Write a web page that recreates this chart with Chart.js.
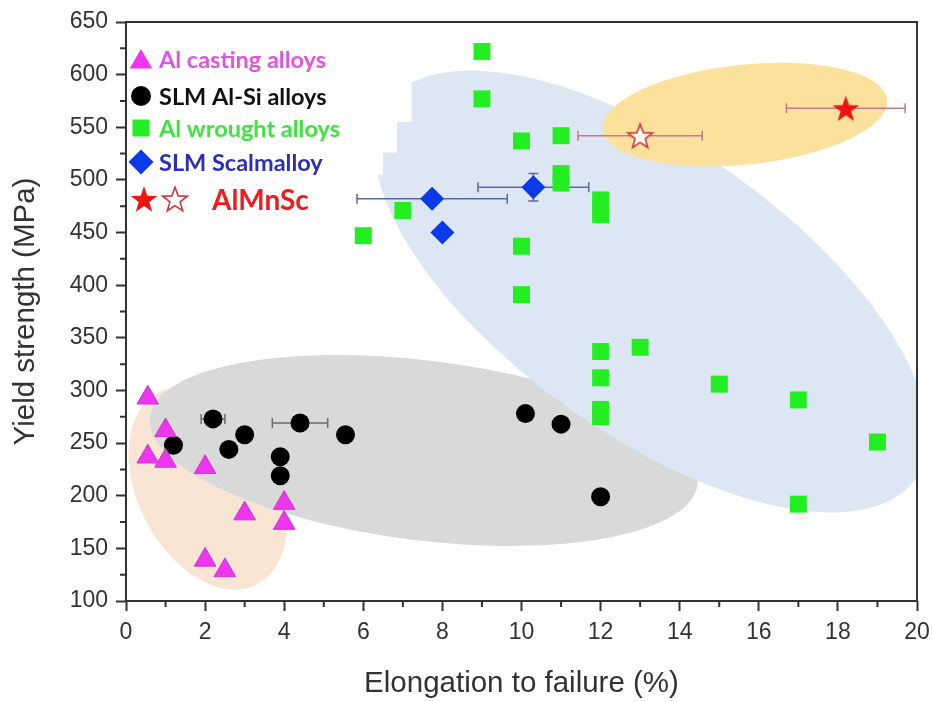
<!DOCTYPE html>
<html>
<head>
<meta charset="utf-8">
<script src="https://cdn.jsdelivr.net/npm/chart.js@4.4.1/dist/chart.umd.min.js"></script>
<style>
  html, body { margin: 0; padding: 0; background: #fff; }
</style>
</head>
<body>
<canvas id="chart" width="932" height="702"></canvas>
<script>
// Al casting alloys (triangles)
const castingX = [0.55, 1.0, 0.55, 1.0, 2.0, 3.0, 4.0, 4.0, 2.0, 2.5];
const castingY = [293, 262, 237, 233, 227, 183, 193, 174, 139, 129];

// SLM Al-Si alloys (circles)
const alsiX = [2.2, 1.2, 3.0, 2.6, 4.4, 3.9, 3.9, 5.55, 10.1, 11.0, 12.0];
const alsiY = [273, 248, 258, 244, 269, 237, 219, 258, 278, 268, 199];
const alsiXErr = [0.3, 0, 0, 0, 0.7, 0, 0, 0, 0, 0, 0];
const alsiYErr = [0, 0, 0, 0, 6, 0, 0, 0, 0, 0, 0];

// Al wrought alloys (squares)
const wroughtX = [9, 9, 10, 11, 11, 11, 12, 12, 7, 6, 10, 10, 12, 12, 12, 12, 13, 15, 17, 19, 17];
const wroughtY = [622, 577, 537, 542, 506, 497, 481, 467, 471, 447, 437, 391, 337, 312, 282, 275, 341, 306, 291, 251, 192];

// SLM Scalmalloy (diamonds)
const scalX = [7.74, 8.0, 10.3];
const scalY = [482, 450, 493];
const scalXErr = [1.9, 0, 1.4];
const scalYErr = [0, 0, 13];

// AlMnSc (stars)
const mnscFullX = [18.2];
const mnscFullY = [568];
const mnscFullXErr = [1.5];
const mnscOpenX = [13.0];
const mnscOpenY = [542];
const mnscOpenXErr = [1.57];

// axis ticks
const xTicks = [0, 2, 4, 6, 8, 10, 12, 14, 16, 18, 20];
const yTicks = [100, 150, 200, 250, 300, 350, 400, 450, 500, 550, 600, 650];

// shaded groups: centre in data units, half axes in px, rotation in degrees
const regions = [
  { cx: 2.07, cy: 207, rx: 108, ry: 70, rot: 63, color: '#f9e5d4' },
  { cx: 7.53, cy: 243, rx: 276, ry: 90, rot: 7, color: '#d9d9d9' },
  { cx: 13.28, cy: 394, rx: 324, ry: 143, rot: 35.4, color: '#dde7f3' },
  { cx: 15.65, cy: 562, rx: 143, ry: 50, rot: -6, color: '#fce19c' }
];
// white boxes of the pasted legend, cutting into the blue region
const maskSteps = [{ x: 7.22, y: 555 }, { x: 6.85, y: 526 }, { x: 6.5, y: 505 }];

function pts(xs, ys) {
  return xs.map((v, i) => ({ x: v, y: ys[i] }));
}

function makeStar(outer, inner, fill, stroke, lw) {
  const size = Math.ceil(outer * 2 + lw * 2 + 2);
  const c = document.createElement('canvas');
  c.width = size;
  c.height = size;
  const g = c.getContext('2d');
  const cx = size / 2, cy = size / 2 + outer * 0.095;
  g.beginPath();
  for (let i = 0; i < 10; i++) {
    const r = i % 2 === 0 ? outer : inner;
    const a = -Math.PI / 2 + i * Math.PI / 5;
    const px = cx + r * Math.cos(a), py = cy + r * Math.sin(a);
    if (i === 0) g.moveTo(px, py); else g.lineTo(px, py);
  }
  g.closePath();
  g.fillStyle = fill;
  g.fill();
  if (lw > 0) {
    g.strokeStyle = stroke;
    g.lineWidth = lw;
    g.stroke();
  }
  return c;
}

const starFull = makeStar(14, 5.6, '#ee1414', '#ee1414', 0);
const starOpen = makeStar(13, 5.4, 'rgba(255,255,255,0.85)', '#c93a3a', 1.6);

const errorSets = [
  { xs: alsiX, ys: alsiY, xe: alsiXErr, ye: alsiYErr, color: '#6b6b6b' },
  { xs: scalX, ys: scalY, xe: scalXErr, ye: scalYErr, color: '#5a68a6' },
  { xs: mnscFullX, ys: mnscFullY, xe: mnscFullXErr, ye: [0], color: '#c47a8a' },
  { xs: mnscOpenX, ys: mnscOpenY, xe: mnscOpenXErr, ye: [0], color: '#c47a8a' }
];

const backdrop = {
  id: 'backdrop',
  beforeDatasetsDraw(chart) {
    const { ctx, chartArea: a, scales: { x, y } } = chart;
    ctx.save();
    ctx.beginPath();
    ctx.rect(a.left, a.top, a.right - a.left, a.bottom - a.top);
    ctx.clip();
    regions.forEach(r => {
      ctx.fillStyle = r.color;
      ctx.beginPath();
      ctx.ellipse(x.getPixelForValue(r.cx), y.getPixelForValue(r.cy), r.rx, r.ry, r.rot * Math.PI / 180, 0, Math.PI * 2);
      ctx.fill();
    });
    ctx.fillStyle = '#fff';
    let top = y.max;
    maskSteps.forEach(s => {
      const y0 = y.getPixelForValue(top), y1 = y.getPixelForValue(s.y);
      ctx.fillRect(a.left, y0, x.getPixelForValue(s.x) - a.left, y1 - y0);
      top = s.y;
    });
    ctx.restore();

    // error bars
    ctx.save();
    ctx.lineWidth = 1.5;
    const cap = 5;
    errorSets.forEach(set => {
      ctx.strokeStyle = set.color;
      ctx.beginPath();
      set.xs.forEach((v, i) => {
        const px = x.getPixelForValue(v), py = y.getPixelForValue(set.ys[i]);
        if (set.xe[i]) {
          const l = x.getPixelForValue(v - set.xe[i]), r = x.getPixelForValue(v + set.xe[i]);
          ctx.moveTo(l, py); ctx.lineTo(r, py);
          ctx.moveTo(l, py - cap); ctx.lineTo(l, py + cap);
          ctx.moveTo(r, py - cap); ctx.lineTo(r, py + cap);
        }
        if (set.ye[i]) {
          const t = y.getPixelForValue(set.ys[i] + set.ye[i]), b = y.getPixelForValue(set.ys[i] - set.ye[i]);
          ctx.moveTo(px, t); ctx.lineTo(px, b);
          ctx.moveTo(px - cap, t); ctx.lineTo(px + cap, t);
          ctx.moveTo(px - cap, b); ctx.lineTo(px + cap, b);
        }
      });
      ctx.stroke();
    });
    ctx.restore();
  },
  afterDatasetsDraw(chart) {
    const { ctx, chartArea: a } = chart;
    const draw = Chart.helpers.drawPoint;
    ctx.save();
    const mx = a.left + 15, tx = a.left + 33;
    const rows = [
      { y: 37, text: 'Al casting alloys', color: '#e352e3', style: 'triangle', r: 13, fill: '#f035f0' },
      { y: 74, text: 'SLM Al-Si alloys', color: '#111', style: 'circle', r: 10, fill: '#000' },
      { y: 106, text: 'Al wrought alloys', color: '#3ee43e', style: 'rect', r: 12, fill: '#22ee22' },
      { y: 140, text: 'SLM Scalmalloy', color: '#2b2fb8', style: 'rectRot', r: 12.5, fill: '#0b3be8' }
    ];
    ctx.textBaseline = 'middle';
    ctx.textAlign = 'left';
    rows.forEach(row => {
      ctx.fillStyle = row.fill;
      ctx.strokeStyle = row.fill;
      draw(ctx, { pointStyle: row.style, radius: row.r, rotation: 0, borderWidth: 0 }, mx, a.top + row.y + (row.style === 'triangle' ? 3 : 0));
      ctx.fillStyle = row.color;
      ctx.font = 'bold 23.5px Lato';
      ctx.fillText(row.text, tx, a.top + row.y + 1);
    });
    const sy = a.top + 177;
    ctx.drawImage(starFull, mx + 3 - starFull.width / 2, sy - starFull.height / 2);
    ctx.drawImage(starOpen, mx + 34 - starOpen.width / 2, sy - starOpen.height / 2);
    ctx.fillStyle = '#ee1c1c';
    ctx.font = 'bold 28px Lato';
    ctx.fillText('AlMnSc', a.left + 86, sy + 2);
    ctx.restore();
  },
  afterDraw(chart) {
    const { ctx, chartArea: a, scales: { x, y } } = chart;
    ctx.save();
    ctx.strokeStyle = '#333';
    ctx.lineWidth = 2;
    ctx.beginPath();
    for (let v = 1; v < 20; v += 2) {
      const px = x.getPixelForValue(v);
      ctx.moveTo(px, a.bottom); ctx.lineTo(px, a.bottom + 6);
    }
    for (let v = 125; v < 650; v += 50) {
      const py = y.getPixelForValue(v);
      ctx.moveTo(a.left, py); ctx.lineTo(a.left - 6, py);
    }
    ctx.stroke();
    ctx.strokeRect(a.left, a.top, a.right - a.left, a.bottom - a.top);
    ctx.restore();
  }
};

const ctx = document.getElementById('chart').getContext('2d');

new Chart(ctx, {
  type: 'scatter',
  data: {
    datasets: [
      {
        label: 'AlMnSc',
        data: pts(mnscFullX, mnscFullY),
        pointStyle: starFull,
        pointRadius: 14
      },
      {
        label: 'AlMnSc',
        data: pts(mnscOpenX, mnscOpenY),
        pointStyle: starOpen,
        pointRadius: 13
      },
      {
        label: 'SLM Scalmalloy',
        data: pts(scalX, scalY),
        pointStyle: 'rectRot',
        pointRadius: 12,
        backgroundColor: '#0b3be8',
        borderColor: '#0b3be8',
        borderWidth: 0
      },
      {
        label: 'Al casting alloys',
        data: pts(castingX, castingY),
        pointStyle: 'triangle',
        pointRadius: 12.5,
        backgroundColor: '#f035f0',
        borderColor: '#c63cc6',
        borderWidth: 1
      },
      {
        label: 'SLM Al-Si alloys',
        data: pts(alsiX, alsiY),
        pointStyle: 'circle',
        pointRadius: 9.5,
        backgroundColor: '#000',
        borderColor: '#000',
        borderWidth: 0
      },
      {
        label: 'Al wrought alloys',
        data: pts(wroughtX, wroughtY),
        pointStyle: 'rect',
        pointRadius: 12,
        backgroundColor: '#22ee22',
        borderColor: '#22ee22',
        borderWidth: 0
      }
    ]
  },
  options: {
    responsive: false,
    animation: false,
    devicePixelRatio: 1,
    layout: { padding: { top: 22, right: 14, left: 0, bottom: 0 } },
    plugins: {
      legend: { display: false },
      tooltip: { enabled: false }
    },
    scales: {
      x: {
        type: 'linear',
        min: 0,
        max: 20,
        afterBuildTicks: s => { s.ticks = xTicks.map(v => ({ value: v })); },
        afterFit: s => { s.height = 101; s.paddingLeft = 0; s.paddingRight = 0; },
        ticks: {
          color: '#333',
          font: { family: 'Liberation Sans', size: 23 },
          padding: 8,
          maxRotation: 0
        },
        grid: { drawOnChartArea: false, drawTicks: true, tickLength: 10, tickColor: '#333', tickWidth: 2 },
        border: { display: false },
        title: {
          display: true,
          text: 'Elongation to failure (%)',
          color: '#333',
          font: { family: 'Liberation Sans', size: 29.5 },
          padding: { top: 0, bottom: 0 }
        }
      },
      y: {
        type: 'linear',
        min: 100,
        max: 650,
        afterBuildTicks: s => { s.ticks = yTicks.map(v => ({ value: v })); },
        afterFit: s => { s.width = 126; s.paddingTop = 0; s.paddingBottom = 0; },
        ticks: {
          color: '#333',
          font: { family: 'Liberation Sans', size: 23 },
          padding: 8
        },
        grid: { drawOnChartArea: false, drawTicks: true, tickLength: 10, tickColor: '#333', tickWidth: 2 },
        border: { display: false },
        title: {
          display: true,
          text: 'Yield strength (MPa)',
          color: '#333',
          font: { family: 'Liberation Sans', size: 29.5 },
          padding: { top: 8, bottom: 0 }
        }
      }
    }
  },
  plugins: [backdrop]
});
</script>
</body>
</html>
